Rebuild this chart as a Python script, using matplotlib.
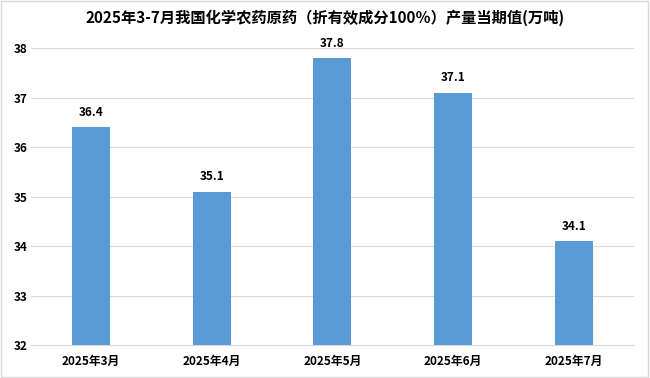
import matplotlib
matplotlib.use("Agg")
import matplotlib.pyplot as plt
from matplotlib.patches import Rectangle

plt.rcParams['font.family'] = ['Noto Sans CJK SC', 'DejaVu Sans']

categories = ["2025年3月", "2025年4月", "2025年5月", "2025年6月", "2025年7月"]
values = [36.4, 35.1, 37.8, 37.1, 34.1]
yticks = [32, 33, 34, 35, 36, 37, 38]
title = "2025年3-7月我国化学农药原药（折有效成分100％）产量当期值(万吨)"

fig = plt.figure(figsize=(6.5, 3.78), dpi=100)
ax = fig.add_axes([0.047, 0.087, 0.929, 0.786])

x = list(range(len(categories)))
bars = ax.bar(x, values, width=0.315, color="#5B9BD5", zorder=3)
ax.set_xlim(-0.5, len(categories) - 0.5)
ax.set_ylim(32, 38)
ax.set_yticks(yticks)
ax.set_yticklabels([str(t) for t in yticks], fontsize=8.5, fontweight="bold")
ax.set_xticks(x)
ax.set_xticklabels(categories, fontsize=8.5, fontweight="bold")
ax.grid(axis="y", color="#D9D9D9", linewidth=0.8, zorder=0)
for s in ["top", "right", "left"]:
    ax.spines[s].set_visible(False)
ax.spines["bottom"].set_color("#D9D9D9")
ax.tick_params(axis="x", length=0, pad=7)
ax.tick_params(axis="y", length=0, pad=2)

for xi, v in zip(x, values):
    ax.annotate(f"{v:.1f}", (xi, v), xytext=(0, 6), textcoords="offset points",
                ha="center", va="bottom", fontsize=8.5, fontweight="bold")

fig.text(0.5, 0.952, title, ha="center", va="center", fontsize=11, fontweight="bold")
fig.add_artist(Rectangle((0.002, 0.003), 0.995, 0.994, transform=fig.transFigure,
                         fill=False, edgecolor="#D9D9D9", linewidth=1.0))
fig.savefig("out.png", dpi=100)
